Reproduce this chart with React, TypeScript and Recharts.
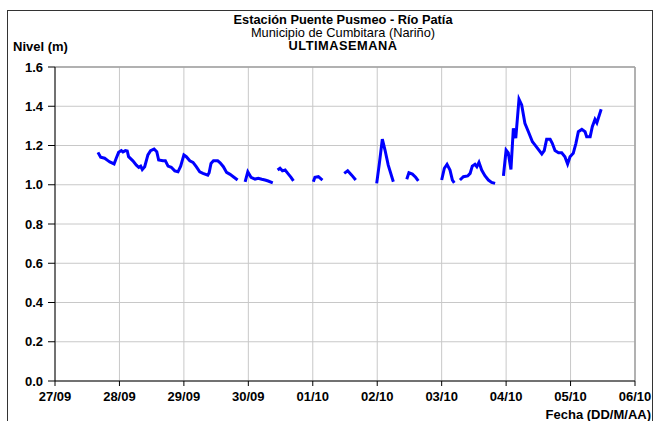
import React from "react";
import { LineChart, Line, XAxis, YAxis, CartesianGrid, ReferenceLine } from "recharts";

// Hours since 27/09 00:00 ; null level = gap in the record
const hours: number[] = [
  16.0, 17.0, 18.5, 19.7, 20.4, 22.0, 22.8, 23.7, 24.7, 25.3, 26.2, 26.9, 27.4, 29.0, 30.3, 31.2, 31.9, 32.5, 33.4, 34.6,
  35.6, 36.9, 37.9, 38.6, 40.2, 41.1, 42.1, 43.3, 44.6, 45.8, 46.8, 48.0, 48.9, 50.2, 51.4, 52.6, 53.9, 55.1, 56.9, 57.4,
  58.1, 59.0, 60.6, 61.5, 62.7, 63.9, 65.2, 66.4, 68.0,
  69.0,
  70.8, 71.8, 73.0, 74.5, 75.7, 77.0, 78.2, 79.4, 81.1,
  82.0,
  82.9, 83.8, 84.7, 85.7, 86.7, 87.9, 88.8,
  92.0,
  96.2, 96.8, 98.1, 99.6,
  104.0,
  107.7, 109.0, 110.5, 112.0,
  116.0,
  119.8, 120.8, 121.9, 122.9, 124.1, 126.0,
  128.0,
  131.0, 131.8, 133.1, 134.3, 135.3,
  140.0,
  144.0, 145.0, 146.0, 147.1, 148.0, 148.7,
  149.8,
  150.8, 152.1, 153.7, 154.6, 155.4, 156.4, 157.1, 157.9, 158.9, 160.1, 161.4, 162.6, 163.9,
  165.5,
  167.0, 168.0, 168.8, 169.8, 170.7, 171.6, 172.8, 173.8, 175.0, 176.3, 177.8, 178.8, 180.0, 181.3, 182.2, 183.1, 184.4,
  185.2, 186.2, 187.5, 188.7, 189.9, 190.9, 191.8, 193.0, 194.0, 194.9, 196.2, 197.4, 198.0, 199.3, 200.1, 201.1, 201.8,
  203.4,
];

const nivel: (number | null)[] = [
  1.165, 1.14, 1.135, 1.123, 1.116, 1.106, 1.135, 1.165, 1.174, 1.167, 1.174, 1.172, 1.143, 1.122, 1.1, 1.089, 1.095, 1.078, 1.092, 1.152,
  1.174, 1.182, 1.168, 1.126, 1.122, 1.122, 1.095, 1.089, 1.071, 1.066, 1.095, 1.152, 1.143, 1.122, 1.114, 1.092, 1.066, 1.058, 1.049, 1.061,
  1.109, 1.122, 1.122, 1.112, 1.092, 1.063, 1.053, 1.041, 1.024,
  null,
  1.015, 1.066, 1.038, 1.029, 1.033, 1.028, 1.024, 1.019, 1.01,
  null,
  1.075, 1.084, 1.071, 1.075, 1.058, 1.038, 1.02,
  null,
  1.015, 1.038, 1.041, 1.024,
  null,
  1.058, 1.071, 1.049, 1.024,
  null,
  1.007, 1.109, 1.232, 1.177, 1.1, 1.015,
  null,
  1.028, 1.061, 1.054, 1.038, 1.02,
  null,
  1.024, 1.084, 1.104, 1.075, 1.024, 1.01,
  null,
  1.024, 1.041, 1.045, 1.058, 1.095, 1.104, 1.092, 1.114, 1.075, 1.046, 1.024, 1.012, 1.007,
  null,
  1.045, 1.177, 1.163, 1.078, 1.288, 1.237, 1.436, 1.407, 1.313, 1.27, 1.219, 1.202, 1.18, 1.157, 1.174, 1.232, 1.232,
  1.211, 1.174, 1.163, 1.163, 1.143, 1.106, 1.143, 1.16, 1.211, 1.27, 1.282, 1.27, 1.245, 1.245, 1.296, 1.333, 1.316,
  1.385,
];

const dateLabels: string[] = ["27/09", "28/09", "29/09", "30/09", "01/10", "02/10", "03/10", "04/10", "05/10", "06/10"];
const xTicks: number[] = dateLabels.map((_, i) => i * 24);
const yTicks: number[] = [0, 0.2, 0.4, 0.6, 0.8, 1.0, 1.2, 1.4, 1.6];

const data = hours.map((h, i) => ({ h, v: nivel[i] }));

const FONT = '"Liberation Sans", Arial, sans-serif';

export default function App() {
  const W = 653;
  const H = 421;
  return (
    <div style={{ position: "absolute", left: 0, top: 0, width: W, height: H, background: "#fff", overflow: "hidden" }}>
      <LineChart width={W} height={H} data={data} margin={{ top: 67, right: 18, left: 0, bottom: 0 }}>
        <CartesianGrid stroke="#c8c8c8" strokeWidth={1} />
        <XAxis
          type="number"
          dataKey="h"
          domain={[0, 216]}
          ticks={xTicks}
          tickFormatter={(v: number) => dateLabels[Math.round(v / 24)]}
          height={40}
          tickSize={5}
          tickMargin={6}
          stroke="#000"
          tick={{ fill: "#000", fontSize: 13, fontWeight: "bold", fontFamily: FONT }}
          interval={0}
          allowDataOverflow
        />
        <YAxis
          type="number"
          domain={[0, 1.6]}
          ticks={yTicks}
          tickFormatter={(v: number) => v.toFixed(1)}
          width={55}
          tickSize={7}
          tickMargin={5}
          stroke="#000"
          tick={{ fill: "#000", fontSize: 13, fontWeight: "bold", fontFamily: FONT }}
          interval={0}
        />
        <ReferenceLine y={1.6} stroke="#a0a0a0" strokeWidth={1.5} />
        <ReferenceLine x={216} stroke="#a0a0a0" strokeWidth={1.5} />
        <Line
          type="linear"
          dataKey="v"
          stroke="#0000ff"
          strokeWidth={3}
          dot={false}
          connectNulls={false}
          isAnimationActive={false}
        />
      </LineChart>
      <svg width={W} height={H} style={{ position: "absolute", left: 0, top: 0, pointerEvents: "none" }}>
        <rect x={7.5} y={10.5} width={645} height={420} fill="none" stroke="#333" strokeWidth={1} />
        <text x={343} y={23.5} textAnchor="middle" fontFamily={FONT} fontSize={12.8} fontWeight="bold" fill="#000">
          Estación Puente Pusmeo - Río Patía
        </text>
        <text x={343} y={36.8} textAnchor="middle" fontFamily={FONT} fontSize={12.8} fill="#000">
          Municipio de Cumbitara (Nariño)
        </text>
        <text x={343} y={50.1} textAnchor="middle" fontFamily={FONT} fontSize={12.8} fontWeight="bold" fill="#000" letterSpacing={0.5}>
          ULTIMASEMANA
        </text>
        <text x={13} y={51} fontFamily={FONT} fontSize={13} fontWeight="bold" fill="#000">
          Nivel (m)
        </text>
        <text x={651} y={419} textAnchor="end" fontFamily={FONT} fontSize={13} fontWeight="bold" fill="#000">
          Fecha (DD/M/AA)
        </text>
      </svg>
    </div>
  );
}
